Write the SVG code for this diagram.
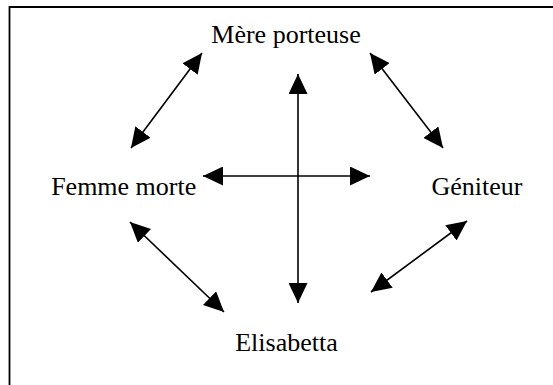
<svg xmlns="http://www.w3.org/2000/svg" width="553" height="385" viewBox="0 0 553 385">
<style>
  .lbl { font-family: "Liberation Serif", "Times New Roman", serif; font-size: 26px; fill: #000; text-anchor: middle; }
  .frame { fill: none; stroke: #000; stroke-width: 1.8; }
  .conn line { stroke: #000; stroke-width: 1.6; marker-start: url(#ah); marker-end: url(#ah); }
</style>
<defs>
  <marker id="ah" markerUnits="userSpaceOnUse" markerWidth="20" markerHeight="19" refX="20" refY="9.5" orient="auto-start-reverse" viewBox="0 0 20 19">
    <path d="M0,0 L20,9.5 L0,19 z" fill="#000"/>
  </marker>
</defs>
<rect width="553" height="385" fill="#fff"/>
<path class="frame" d="M9.5,385 L9.5,7 L553,7"/>
<g id="mere-porteuse"><text class="lbl" x="286" y="43">Mère porteuse</text></g>
<g id="femme-morte"><text class="lbl" x="123.7" y="195">Femme morte</text></g>
<g id="geniteur"><text class="lbl" x="477" y="195">Géniteur</text></g>
<g id="elisabetta"><text class="lbl" x="286.5" y="351">Elisabetta</text></g>
<g id="connectors" class="conn">
  <line x1="131" y1="148" x2="202" y2="53"/>
  <line x1="370" y1="53" x2="443" y2="148"/>
  <line x1="203" y1="176" x2="370" y2="176"/>
  <line x1="298" y1="74" x2="298" y2="303"/>
  <line x1="130" y1="222" x2="224" y2="312"/>
  <line x1="467" y1="221" x2="371" y2="292"/>
</g>
</svg>
